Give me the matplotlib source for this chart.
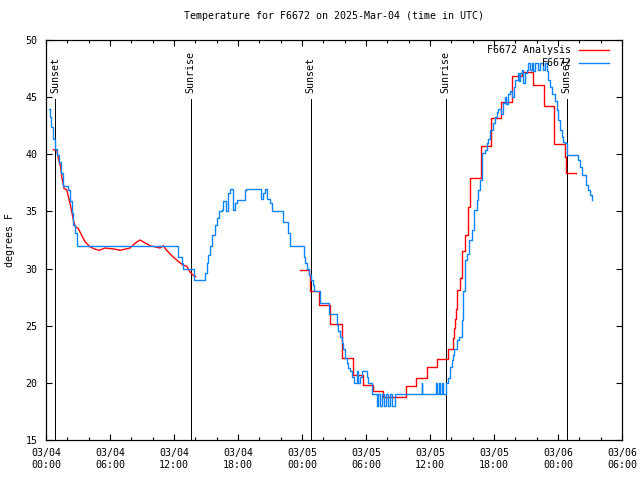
import numpy as np
import pandas as pd
import matplotlib
matplotlib.use("Agg")
import matplotlib.pyplot as plt
import matplotlib.dates as mdates

inicio = pd.Timestamp("2025-03-04 00:00")

# analise: horas desde 03/04 00:00 UTC (nan = sem dados)
horas_analise = [0.68, 1.0, 1.15, 1.38, 1.47, 1.69, 1.94, 2.25, 2.41, 2.56, 2.72, 3.03, 3.35, 3.66,
                 4.12, 4.59, 5.0, 5.53, 6.0, 6.47, 6.94, 7.41, 7.87, 8.34, 8.81, 9.19, 9.75, 10.22,
                 10.69, 11.0, 11.31, 11.62, 11.93, 12.25, 12.56, 12.87, 13.19, 13.5, 13.81, 14.03,
                 14.04,
                 23.81, 24.68, 24.75, 25.62, 26.62, 27.72, 28.75, 29.69, 30.68, 31.62, 33.75, 34.69,
                 35.69, 36.68, 37.66, 38.13, 38.25, 38.34, 38.44, 38.56, 38.81, 39.03, 39.28, 39.59,
                 39.75, 40.75, 41.69, 42.63, 43.66, 44.65, 45.68, 46.69, 47.62, 48.66, 48.72, 49.66]
temp_analise = [40.4, 40.4, 39.65, 38.9, 38.05, 37.0, 36.9, 35.7, 35.0, 34.25, 33.7, 33.5, 32.9, 32.35,
                31.9, 31.7, 31.6, 31.8, 31.75, 31.7, 31.6, 31.7, 31.8, 32.2, 32.5, 32.3, 32.0, 31.9,
                31.8, 32.0, 31.6, 31.3, 31.0, 30.75, 30.5, 30.3, 30.2, 29.7, 29.4, 29.3,
                np.nan,
                29.9, 29.4, 28.0, 26.8, 25.15, 22.2, 20.7, 19.8, 19.3, 18.8, 19.75, 20.4,
                21.4, 22.05, 23.0, 23.9, 24.8, 25.6, 26.5, 28.1, 29.15, 31.5, 32.9, 35.4,
                37.9, 40.7, 43.2, 44.6, 46.85, 47.2, 46.06, 44.2, 40.9, 39.8, 38.4, 38.4]

# observacoes da estacao
horas_obs = [0.31, 0.38, 0.47, 0.63, 0.84, 1.0, 1.22, 1.38, 1.62, 2.09, 2.25, 2.41, 2.56, 2.72, 2.93,
             12.25, 12.4, 12.72, 12.87, 13.9, 14.75, 14.91, 15.06, 15.22, 15.37, 15.53, 15.84, 16.0,
             16.25, 16.47, 16.62, 16.85, 17.09, 17.25, 17.56, 17.72, 17.93, 18.66, 18.75, 20.16,
             20.31, 20.53, 20.69, 21.0, 21.22, 22.25, 22.72, 22.87, 24.19, 24.31, 24.44, 24.68,
             24.84, 25.0, 25.15, 25.69, 26.56, 27.25, 27.4, 27.56, 27.72, 27.87, 28.03, 28.19,
             28.34, 28.5, 28.66, 28.9, 29.12, 29.28, 29.44, 29.6, 30.06, 30.22, 30.53, 31.0, 31.16,
             31.31, 31.53, 31.69, 31.87, 32.06, 32.25, 32.44, 32.72, 35.22, 35.28, 36.56, 36.66,
             36.87, 36.98, 37.1, 37.25, 37.47, 37.72, 37.87, 38.03, 38.13, 38.25, 38.5, 38.75,
             39.0, 39.09, 39.28, 39.44, 39.69, 39.91, 40.16, 40.38, 40.53, 40.69, 40.84, 41.16,
             41.31, 41.47, 41.62, 41.87, 42.09, 42.25, 42.41, 42.66, 42.87, 43.03, 43.17, 43.34,
             43.5, 43.64, 43.87, 44.0, 44.25, 44.3, 44.44, 44.59, 44.72, 44.91, 45.06, 45.22,
             45.37, 45.53, 45.69, 45.84, 46.12, 46.31, 46.59, 46.75, 46.94, 47.09, 47.25, 47.41,
             47.72, 47.87, 48.03, 48.19, 48.34, 48.5, 48.66, 48.81, 49.75, 49.9, 50.06, 50.22,
             50.53, 50.59, 50.78, 51.0, 51.22]
temp_obs = [44.0, 43.3, 42.4, 41.3, 40.5, 39.9, 39.35, 38.35, 37.2, 36.9, 35.9, 34.9, 33.8, 33.1, 32.0,
            32.0, 31.0, 30.5, 30.0, 29.0, 29.0, 29.6, 30.5, 31.2, 32.0, 32.9, 33.8, 34.4,
            35.0, 35.1, 35.9, 35.0, 36.6, 37.0, 35.1, 35.7, 36.0, 36.9, 37.0, 36.1,
            36.6, 37.0, 36.1, 35.7, 35.0, 34.1, 33.1, 32.0, 31.0, 30.5, 30.0, 29.4,
            29.0, 28.6, 28.0, 27.0, 26.0, 25.1, 24.5, 24.0, 23.5, 23.0, 22.2, 21.7,
            21.3, 21.0, 20.5, 20.0, 21.0, 20.0, 20.5, 21.0, 20.5, 20.0, 19.0, 18.0, 19.0,
            18.0, 19.0, 18.0, 19.0, 18.0, 19.0, 18.0, 19.0, 20.0, 19.0, 20.0, 19.0,
            20.0, 19.0, 20.0, 19.0, 20.0, 20.4, 21.4, 22.0, 22.4, 23.0, 23.75, 24.0,
            25.5, 28.0, 30.75, 31.3, 32.5, 33.4, 35.1, 36.0, 36.9, 37.75, 40.1, 40.4,
            41.0, 41.3, 42.1, 42.7, 43.3, 43.7, 44.0, 43.5, 44.5, 45.0, 44.4, 45.3,
            45.5, 45.0, 45.9, 46.5, 47.1, 46.4, 47.1, 47.4, 46.2, 47.1, 47.4, 48.0,
            47.4, 48.0, 47.3, 48.0, 47.4, 48.0, 47.4, 48.0, 47.3, 46.5, 45.9, 45.3,
            44.7, 43.9, 43.0, 42.1, 41.5, 41.1, 40.96, 39.9, 39.9, 39.5, 38.9, 38.2,
            38.2, 37.3, 36.9, 36.4, 36.0]

eventos_sol = ["Sunset", "Sunrise", "Sunset", "Sunrise", "Sunset"]
horas_sol = [0.87, 13.56, 24.81, 37.47, 48.81]


def para_datas(horas):
    return inicio + pd.to_timedelta(horas, unit="h")


plt.rcParams['font.family'] = ['DejaVu Sans Mono']
plt.rcParams['font.size'] = 7.2

fig = plt.figure(figsize=(6.4, 4.8), dpi=100)
ax = fig.add_axes([0.0719, 0.0833, 0.9, 0.8334])

for nome, h in zip(eventos_sol, horas_sol):
    t = para_datas([h])[0]
    ax.plot([t, t], [15, 44.8], color='black', lw=0.7, zorder=1, antialiased=False)
    ax.text(t, 45.4, nome, rotation=90, ha='center', va='bottom', fontsize=7.2)

# a analise tem um trecho suave e outro horario (em degraus)
corte = int(np.where(np.isnan(temp_analise))[0][0])
ax.plot(para_datas(horas_analise[:corte]), temp_analise[:corte], color='#ff0000', lw=1.0,
        label='F6672 Analysis', zorder=2)
ax.plot(para_datas(horas_analise[corte + 1:]), temp_analise[corte + 1:], color='#ff0000', lw=1.0,
        drawstyle='steps-post', zorder=2)
ax.plot(para_datas(horas_obs), temp_obs, color='#0a84ff', lw=1.0,
        drawstyle='steps-post', label='F6672', zorder=3)

ax.set_xlim(inicio, inicio + pd.Timedelta(hours=54))
ax.set_ylim(15, 50)
ax.set_yticks(range(15, 51, 5))
ax.xaxis.set_major_locator(mdates.HourLocator(byhour=[0, 6, 12, 18]))
ax.xaxis.set_minor_locator(mdates.HourLocator(interval=2))
ax.xaxis.set_major_formatter(mdates.DateFormatter('%m/%d\n%H:%M'))
ax.tick_params(which='major', direction='in', length=4, width=0.8, top=True, right=True, labelsize=7.2, pad=6)
ax.tick_params(which='minor', direction='in', length=2, width=0.8, top=True, right=True)
for s in ax.spines.values():
    s.set_linewidth(0.9)

ax.set_ylabel('degrees F', fontsize=7.2, labelpad=8)
ax.set_title('Temperature for F6672 on 2025-Mar-04 (time in UTC)', fontsize=7.2, pad=15)

leg = ax.legend(loc='upper right', bbox_to_anchor=(0.985, 0.997), frameon=False, fontsize=7.2,
                markerfirst=False, handlelength=3.0, borderaxespad=0.0, labelspacing=0.3,
                handletextpad=0.8)

fig.savefig('out.png', dpi=100)
